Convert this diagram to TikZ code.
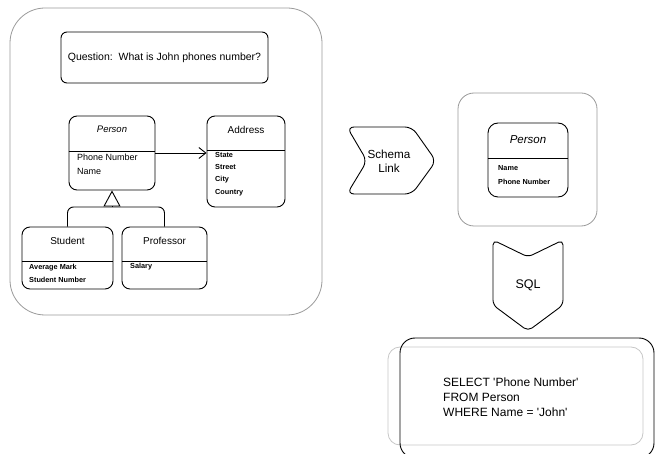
\documentclass[tikz,border=0pt]{standalone}
\usepackage{fontspec}
\setmainfont{Liberation Sans}
\usetikzlibrary{arrows.meta,positioning}

\begin{document}
\begin{tikzpicture}[
    x=1pt, y=-1pt,
    panel/.style={rectangle, draw=black!40, line width=0.8pt, rounded corners=#1, inner sep=0pt},
    panel/.default=35pt,
    classbox/.style={rectangle, draw, line width=0.9pt, rounded corners=8pt, inner sep=0pt},
    classname/.style={font=\fontsize{10}{12}\selectfont},
    classattr/.style={anchor=west, align=left, inner sep=0pt, font=\bfseries\fontsize{7.3}{12.3}\selectfont},
    divider/.style={line width=0.9pt},
    arrowshape/.style={draw, line width=0.9pt, rounded corners=7pt},
    arrowstyle/.style={draw, line width=0.9pt, -{Straight Barb[length=7pt, width=11pt]}},
    inherit/.style={draw, line width=0.9pt, -{Triangle[open, length=16pt, width=17pt]}}
]
\useasboundingbox (0,0) rectangle (656,454);

% schema panel
\node[panel, minimum width=312pt, minimum height=307pt] (Schema) at (166,161.5) {};
\node[classbox, rounded corners=6pt, minimum width=207pt, minimum height=51pt,
    font=\fontsize{10.5}{12}\selectfont] (Question) at (164.5,57.5)
    {Question:\ \ What is John phones number?};

\node[classbox, minimum width=86pt, minimum height=74pt] (Person) at (112,153) {};
\draw[divider] (Person.west |- 0,151) -- (Person.east |- 0,151);
\node[classname, font=\itshape\fontsize{9.5}{12}\selectfont] (PersonName) at (112,129) {Person};
\node[classattr, font=\fontsize{9}{14}\selectfont] (PersonAttr) at (77,164) {Phone Number\\Name};

\node[classbox, minimum width=78pt, minimum height=91pt] (Address) at (246,161.5) {};
\draw[divider] (Address.west |- 0,150) -- (Address.east |- 0,150);
\node[classname] (AddressName) at (246,130) {Address};
\node[classattr] (AddressAttr) at (215,174) {State\\Street\\City\\Country};

\node[classbox, minimum width=91pt, minimum height=62pt] (Student) at (67.5,258) {};
\draw[divider] (Student.west |- 0,261) -- (Student.east |- 0,261);
\node[classname] (StudentName) at (67.5,241) {Student};
\node[classattr] (StudentAttr) at (29,273.5) {Average Mark\\Student Number};

\node[classbox, minimum width=85pt, minimum height=62pt] (Professor) at (164.5,258) {};
\draw[divider] (Professor.west |- 0,261) -- (Professor.east |- 0,261);
\node[classname] (ProfessorName) at (164.5,241) {Professor};
\node[classattr] (ProfessorAttr) at (130,267) {Salary};

\draw[arrowstyle] (Person.east) -- (Person.east -| Address.west);
\coordinate (Split) at (Person.south |- 0,207);
\draw[inherit] (Split) -- (Person.south);
\draw[divider, rounded corners=6pt] (Student.north) |- (Split) -| (Professor.north);

% schema link
\draw[arrowshape] (347,127) -- (412,127) -- (436,161) -- (412,194) -- (347,194) -- (367,161) -- cycle;
\node[font=\fontsize{11.7}{14}\selectfont, align=center] (SchemaLink) at (389,161) {Schema\\Link};

% linked schema
\node[panel=16pt, minimum width=139pt, minimum height=133pt] (Result) at (527.5,159.5) {};
\node[classbox, rounded corners=10pt, minimum width=80pt, minimum height=74pt] (ResultPerson) at (528,160) {};
\draw[divider] (ResultPerson.west |- 0,158) -- (ResultPerson.east |- 0,158);
\node[classname, font=\itshape\fontsize{11.5}{13}\selectfont] (ResultPersonName) at (528,140) {Person};
\node[classattr, font=\bfseries\fontsize{7.3}{14}\selectfont] (ResultPersonAttr) at (498,175) {Name\\Phone Number};

% sql step
\draw[arrowshape, rounded corners=5pt] (493,240) -- (528,257) -- (563,240) -- (563,305) -- (528,331) -- (493,305) -- cycle;
\node[font=\fontsize{12.5}{14}\selectfont] (SQL) at (528,285) {SQL};

% query
\node[panel=12pt, draw=black!22, minimum width=255pt, minimum height=98pt] (QueryBack) at (515.5,396) {};
\node[classbox, rounded corners=15pt, minimum width=254pt, minimum height=120pt] (Query) at (527,398) {};
\node[anchor=west, align=left, inner sep=0pt, font=\fontsize{12}{15}\selectfont] (QueryText) at (443,397)
    {SELECT \textquotesingle Phone Number\textquotesingle\\FROM Person\\WHERE Name = \textquotesingle John\textquotesingle};
\end{tikzpicture}
\end{document}
